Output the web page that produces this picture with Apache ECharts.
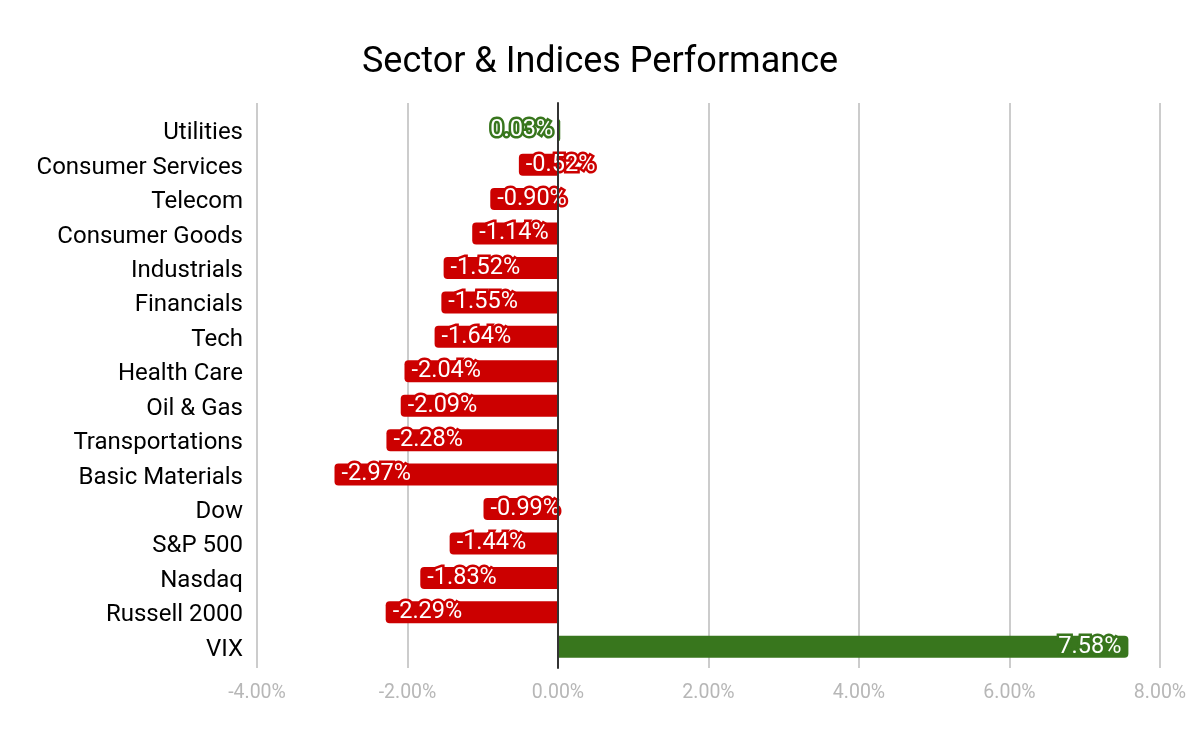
<!DOCTYPE html>
<html>
<head>
<meta charset="utf-8">
<script src="https://cdn.jsdelivr.net/npm/echarts@6/dist/echarts.min.js"></script>
<style>html,body{margin:0;padding:0;background:#fff}#c{width:1200px;height:742px}</style>
</head>
<body>
<div id="c"></div>
<script>
const titleText = 'Sector & Indices Performance';
const categories = ['Utilities','Consumer Services','Telecom','Consumer Goods','Industrials','Financials','Tech','Health Care','Oil & Gas','Transportations','Basic Materials','Dow','S&P 500','Nasdaq','Russell 2000','VIX'];
const values = [0.03,-0.52,-0.90,-1.14,-1.52,-1.55,-1.64,-2.04,-2.09,-2.28,-2.97,-0.99,-1.44,-1.83,-2.29,7.58];
const xMin = -4, xMax = 8, xStep = 2;

const GREEN = '#38761d', RED = '#cc0000';
const FONT = 'Roboto';

const barData = values.map(v => {
  const c = v >= 0 ? GREEN : RED;
  return {
    value: v,
    itemStyle: { color: c, borderRadius: v >= 0 ? [0,4,4,0] : [4,0,0,4] },
    label: { position: v >= 0 ? 'insideRight' : 'insideLeft', textBorderColor: c }
  };
});

const chart = echarts.init(document.getElementById('c'));
chart.setOption({
  animation: false,
  title: { text: titleText, left: 'center', top: 40, textStyle: { fontFamily: FONT, fontSize: 36, fontWeight: 'normal', color: '#000' } },
  grid: [
    { left: 257, right: 40, top: 113, bottom: 78 },
    { left: 257, right: 40, top: 103, bottom: 74 },
    { left: 257, right: 40, top: 116, bottom: 75 }
  ],
  xAxis: [
    { gridIndex: 0, type: 'value', min: xMin, max: xMax, interval: xStep, show: false },
    { gridIndex: 1, type: 'value', min: xMin, max: xMax, interval: xStep,
      axisLine: { show: false }, axisTick: { show: false },
      splitLine: { show: true, lineStyle: { color: '#cccccc', width: 2 } },
      axisLabel: { margin: 15, color: '#b7b7b7', fontFamily: FONT, fontSize: 19.5, formatter: v => v.toFixed(2) + '%' } },
    { gridIndex: 2, type: 'value', min: xMin, max: xMax, interval: xStep, show: false }
  ],
  yAxis: [
    { gridIndex: 0, type: 'category', data: categories, inverse: true, show: false },
    { gridIndex: 1, type: 'value', min: 0, max: 1, z: 5,
      axisLine: { show: true, onZero: true, lineStyle: { color: '#333333', width: 2 } },
      axisTick: { show: false }, axisLabel: { show: false }, splitLine: { show: false } },
    { gridIndex: 2, type: 'category', data: categories, inverse: true,
      axisLine: { show: false }, axisTick: { show: false }, splitLine: { show: false },
      axisLabel: { margin: 14, color: '#000', fontFamily: FONT, fontSize: 24 } }
  ],
  series: [{
    type: 'bar', xAxisIndex: 0, yAxisIndex: 0, data: barData, barWidth: 22,
    label: { show: true, distance: 7, color: '#fff', fontFamily: FONT, fontSize: 23.5, textBorderWidth: 5,
      formatter: p => p.value.toFixed(2) + '%' }
  }]
});
</script>
</body>
</html>
